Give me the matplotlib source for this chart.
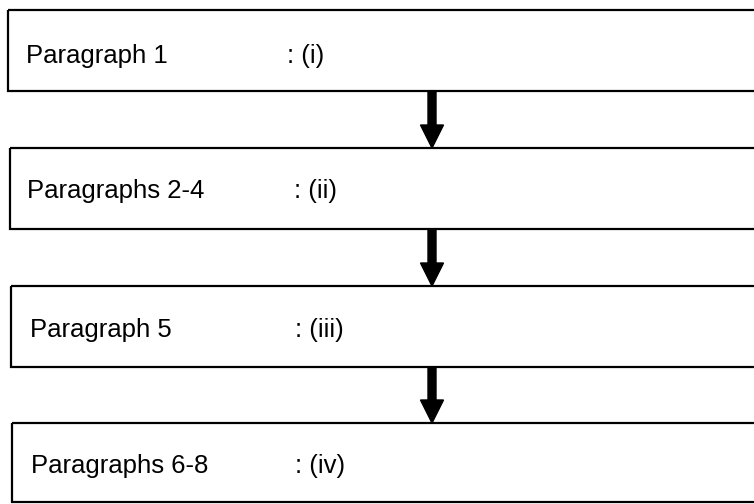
import matplotlib.pyplot as plt
from matplotlib.patches import Rectangle

plt.rcParams['font.family'] = ['Liberation Sans', 'DejaVu Sans']

# flowchart content
sections = ["Paragraph 1", "Paragraphs 2-4", "Paragraph 5", "Paragraphs 6-8"]
codes = [": (i)", ": (ii)", ": (iii)", ": (iv)"]

# layout in pixels (scanned page is slightly skewed, so edges drift a bit)
tops = [10, 148, 286, 423]
bottoms = [91, 229, 367, 502]
lefts = [8, 10, 11, 12]
label_x = [26, 27, 30, 31]
code_x = [287, 294, 295, 295]
baselines = [63, 198, 337, 473]
arrow_x = 432

fig = plt.figure(figsize=(7.54, 5.04), dpi=100)
ax = fig.add_axes([0, 0, 1, 1])
ax.set_xlim(0, 754)
ax.set_ylim(504, 0)
ax.axis('off')

for i, name in enumerate(sections):
    ax.add_patch(Rectangle((lefts[i], tops[i]), 780 - lefts[i], bottoms[i] - tops[i],
                           fill=False, ec='black', lw=1.6))
    ax.text(label_x[i], baselines[i], name, fontsize=18.5, va='baseline', ha='left')
    ax.text(code_x[i], baselines[i], codes[i], fontsize=18.5, va='baseline', ha='left')

for i in range(len(sections) - 1):
    y0 = bottoms[i]
    y1 = tops[i + 1]
    ax.arrow(arrow_x, y0, 0, y1 - y0, width=8, head_width=23, head_length=23,
             length_includes_head=True, fc='black', ec='black')

fig.savefig('out.png', dpi=100)
